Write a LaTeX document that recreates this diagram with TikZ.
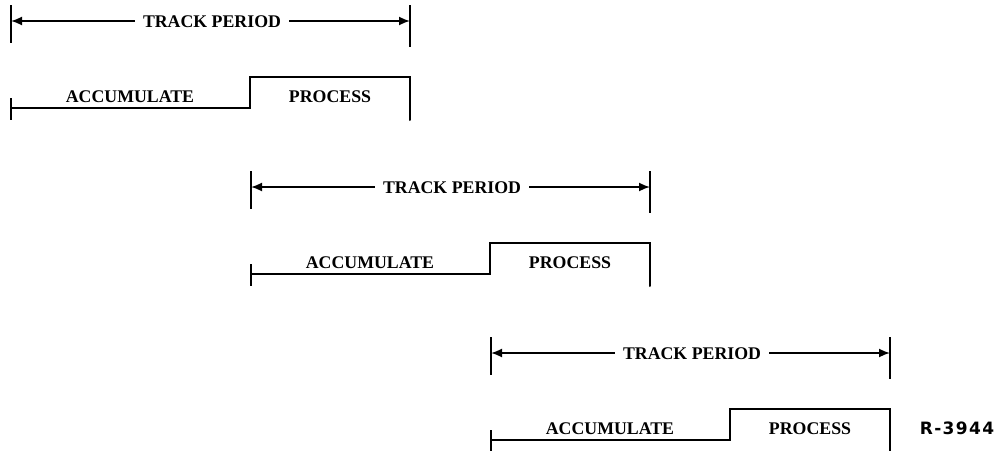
\documentclass[tikz,border=0pt]{standalone}
\usepackage{fontspec}
\setmainfont{Liberation Serif}
\newfontfamily\tagfont[LetterSpace=8]{DejaVu Sans}
\usetikzlibrary{arrows.meta}
\begin{document}
\begin{tikzpicture}[x=1pt,y=-1pt,
  rule/.style={line width=2pt,line cap=round},
  tick/.style={line width=2.2pt},
  span/.style={line width=1.7pt,-{Latex[length=11pt,width=9pt]}},
  label/.style={font=\bfseries\fontsize{17.8}{19}\selectfont,inner sep=0pt,text depth=0pt}]
\useasboundingbox (0,0) rectangle (1006,450);
\foreach \i in {0,1,2}{
  \begin{scope}[shift={(240*\i,166*\i)}]
    % track period bracket
    \coordinate (tl\i) at (11,21);
    \coordinate (tr\i) at (410,21);
    \draw[tick] (11,5) -- (11,43);
    \draw[tick] (410,5) -- (410,47);
    \node[label,anchor=base] (tp\i) at (212,27) {TRACK PERIOD};
    \draw[span] ([xshift=-8pt]tp\i.west |- tl\i) -- (tl\i);
    \draw[span] ([xshift=8pt]tp\i.east |- tr\i) -- (tr\i);
    % accumulate / process timeline
    \node[label,anchor=base] (ac\i) at (130,102) {ACCUMULATE};
    \node[label,anchor=base] (pr\i) at (330,102) {PROCESS};
    \draw[tick] (11,98) -- (11,120);
    \draw[rule] (11,108) -- (250,108) -- (250,77) -- (410,77) -- (410,120);
  \end{scope}
}
\node[font=\tagfont\bfseries\fontsize{17}{19}\selectfont,anchor=base] (tag) at (957,434) {R-3944};
\end{tikzpicture}
\end{document}
